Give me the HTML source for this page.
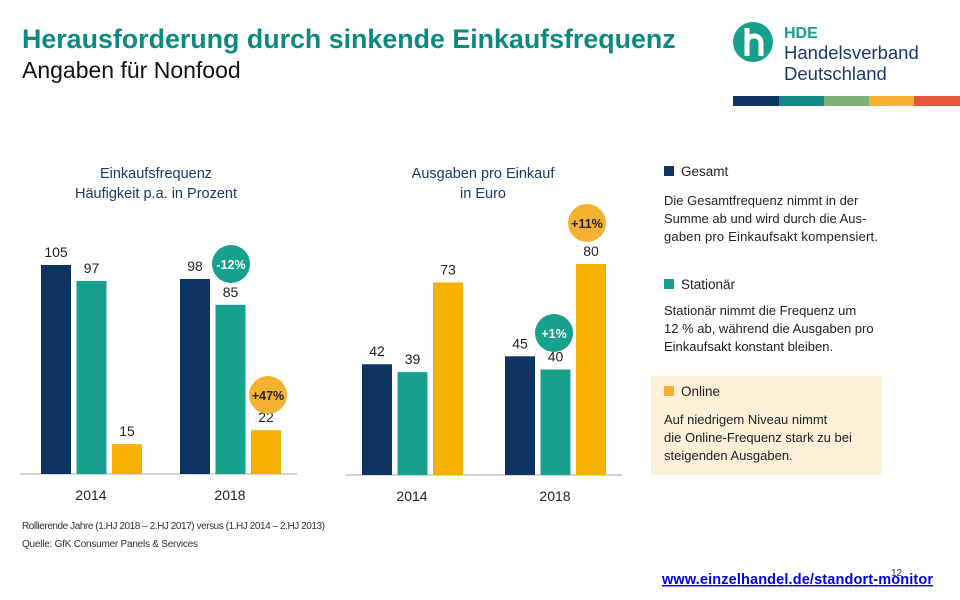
<!DOCTYPE html>
<html><head><meta charset="utf-8"><style>
body{margin:0;width:960px;height:600px;background:#fff;overflow:hidden;font-family:"Liberation Sans",sans-serif;}
svg{position:absolute;left:0;top:0}
text{font-family:"Liberation Sans",sans-serif}
</style></head><body>
<svg width="960" height="600" id="s">
<text x="22" y="48" font-size="26.8" font-weight="bold" fill="#0d8a80">Herausforderung durch sinkende Einkaufsfrequenz</text>
<text x="22" y="78" font-size="23" fill="#111">Angaben für Nonfood</text>
<g>
<circle cx="753" cy="42" r="20" fill="#17a08c"/>
<path d="M747 28 v28 M747 44 q0 -8 7 -8 q7 0 7 8 v12" stroke="#fff" stroke-width="5" fill="none"/>
<text x="784" y="38" font-size="16" font-weight="bold" fill="#17a08c">HDE</text>
<text x="784" y="59" font-size="18.5" fill="#1b3a6b">Handelsverband</text>
<text x="784" y="80" font-size="18.5" fill="#1b3a6b">Deutschland</text>
</g>
<g>
<rect x="733" y="96" width="46" height="10" fill="#0e3461"/>
<rect x="779" y="96" width="45" height="10" fill="#148a86"/>
<rect x="824" y="96" width="45" height="10" fill="#7ab27a"/>
<rect x="869" y="96" width="45" height="10" fill="#f5b130"/>
<rect x="914" y="96" width="46" height="10" fill="#e8563e"/>
</g>
<text x="156" y="178" font-size="14.5" fill="#1b3a6b" text-anchor="middle">Einkaufsfrequenz</text>
<text x="156" y="198" font-size="14.5" fill="#1b3a6b" text-anchor="middle">Häufigkeit p.a. in Prozent</text>
<text x="483" y="178" font-size="14.5" fill="#1b3a6b" text-anchor="middle">Ausgaben pro Einkauf</text>
<text x="483" y="198" font-size="14.5" fill="#1b3a6b" text-anchor="middle">in Euro</text>
<g id="charts"></g>
<g>
<rect x="664" y="166" width="10" height="10" fill="#0e3461"/>
<text x="681" y="176" font-size="13.5" fill="#222">Gesamt</text>
<text x="664" y="205" font-size="13" fill="#222">Die Gesamtfrequenz nimmt in der</text>
<text x="664" y="223" font-size="13" fill="#222">Summe ab und wird durch die Aus-</text>
<text x="664" y="241" font-size="13" fill="#222" textLength="214">gaben pro Einkaufsakt kompensiert.</text>
<rect x="664" y="279" width="10" height="10" fill="#17a08c"/>
<text x="681" y="289" font-size="13.5" fill="#222">Stationär</text>
<text x="664" y="315" font-size="13" fill="#222">Stationär nimmt die Frequenz um</text>
<text x="664" y="333" font-size="13" fill="#222">12 % ab, während die Ausgaben pro</text>
<text x="664" y="351" font-size="13" fill="#222">Einkaufsakt konstant bleiben.</text>
<rect x="651" y="376" width="230" height="99" fill="#fdf0d9"/>
<rect x="664" y="386" width="10" height="10" fill="#f5b130"/>
<text x="681" y="396" font-size="13.5" fill="#222">Online</text>
<text x="664" y="424" font-size="13" fill="#222">Auf niedrigem Niveau nimmt</text>
<text x="664" y="442" font-size="13" fill="#222">die Online-Frequenz stark zu bei</text>
<text x="664" y="460" font-size="13" fill="#222">steigenden Ausgaben.</text>
</g>
<text x="22" y="529" font-size="10" fill="#333" textLength="303">Rollierende Jahre (1.HJ 2018 – 2.HJ 2017) versus (1.HJ 2014 – 2.HJ 2013)</text>
<text x="22" y="547" font-size="10" fill="#333" textLength="176">Quelle: GfK Consumer Panels &amp; Services</text>
<text x="891" y="576" font-size="10" fill="#333">12</text>
<text x="933" y="584" font-size="14.5" font-weight="bold" fill="#0000ee" text-anchor="end" text-decoration="underline" textLength="271">www.einzelhandel.de/standort-monitor</text>
</svg>
<script>
const categories=["2014","2018"];
const freqGesamt=[105,98];
const freqStationaer=[97,85];
const freqOnline=[15,22];
const spendGesamt=[42,45];
const spendStationaer=[39,40];
const spendOnline=[73,80];
const colors=["#0e3461","#17a08c","#f5b000"];
const NS="http://www.w3.org/2000/svg";
const g=document.getElementById("charts");
function mk(t,a){const e=document.createElementNS(NS,t);for(const k in a)e.setAttribute(k,a[k]);g.appendChild(e);return e;}
function chart(name,series,x0,x1,groupX,scale,base){
  const ax=mk("line",{x1:x0,x2:x1,y1:base,y2:base,stroke:"#c8c8c8","stroke-width":1.5});
  
  
  categories.forEach((c,ci)=>{
    series.forEach((s,si)=>{
      const v=s[ci];const h=v*scale;const x=groupX[ci]+si*35.5;
      const r=mk("rect",{x:x,y:base-h,width:30,height:h,fill:colors[si]});
      
      
      const t=mk("text",{x:x+15,y:base-h-8,"font-size":14,fill:"#222","text-anchor":"middle"});
      t.textContent=v;
      
      
    });
    const l=mk("text",{x:groupX[ci]+50,y:base+26,"font-size":14,fill:"#222","text-anchor":"middle"});
    l.textContent=c;
    
    
  });
}
chart("frequency",[freqGesamt,freqStationaer,freqOnline],20,297,[41,180],209/105,474);
chart("spending",[spendGesamt,spendStationaer,spendOnline],345,622,[362,505],211/80,475);
function badge(name,cx,cy,col,txt,tc){
  const c=mk("circle",{cx:cx,cy:cy,r:19,fill:col});
  
  
  const t=mk("text",{x:cx,y:cy+5,"font-size":12.5,"font-weight":"bold",fill:tc,"text-anchor":"middle"});
  t.textContent=txt;
  
  
}
badge("badge-minus-12",231,264,"#17a08c","-12%","#fff");
badge("badge-plus-47",268,395,"#f5b130","+47%","#222");
badge("badge-plus-11",587,223,"#f5b130","+11%","#222");
badge("badge-plus-1",554,333,"#17a08c","+1%","#fff");
</script>
</body></html>
